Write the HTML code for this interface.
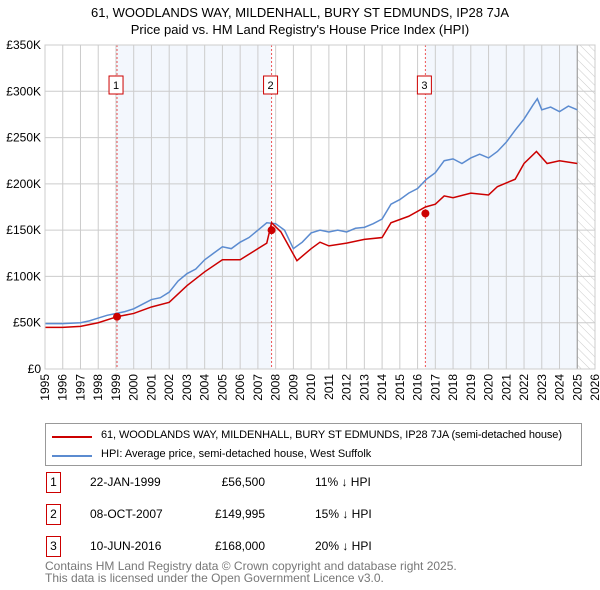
<!DOCTYPE html>
<html><head><meta charset="utf-8"><style>
body{margin:0;background:#fff;font-family:"Liberation Sans","DejaVu Sans",sans-serif;}
#wrap{position:relative;width:600px;height:590px;overflow:hidden}
.t{position:absolute;font-size:12px;color:#000;white-space:nowrap}
.box{position:absolute;width:13px;height:19px;border:1px solid #c00;font-size:12px;text-align:center;line-height:19px;background:#fff}
</style></head><body><div id="wrap">
<div class="t" style="left:0;width:600px;text-align:center;top:4px;font-size:13px;line-height:17px">61, WOODLANDS WAY, MILDENHALL, BURY ST EDMUNDS, IP28 7JA<br>Price paid vs. HM Land Registry's House Price Index (HPI)</div>
<svg id="chart" width="600" height="420" style="position:absolute;left:0;top:0">
<defs><pattern id="hatch" width="6" height="6" patternUnits="userSpaceOnUse" patternTransform="rotate(-45)"><line x1="0" y1="0" x2="0" y2="6" stroke="#ccc" stroke-width="1"/></pattern></defs>
</svg>
<div style="position:absolute;left:45px;top:423px;width:535px;height:41px;border:1px solid #999">
<div style="position:absolute;left:6px;top:12px;width:40px;height:2px;background:#c00"></div>
<div class="t" style="left:55px;top:5px;font-size:11px;letter-spacing:-0.1px">61, WOODLANDS WAY, MILDENHALL, BURY ST EDMUNDS, IP28 7JA (semi-detached house)</div>
<div style="position:absolute;left:6px;top:31px;width:40px;height:2px;background:#5b8bd0"></div>
<div class="t" style="left:55px;top:24px;font-size:11px">HPI: Average price, semi-detached house, West Suffolk</div>
</div>
<div id="rows"></div>
<div class="t" style="left:45px;top:560px;color:#777;font-size:12px;line-height:12px">Contains HM Land Registry data © Crown copyright and database right 2025.<br>This data is licensed under the Open Government Licence v3.0.</div>
</div>
<script>
const hpiYears=[1995,1996,1997,1997.5,1998,1998.5,1999,1999.5,2000,2000.5,2001,2001.5,2002,2002.5,2003,2003.5,2004,2004.5,2005,2005.5,2006,2006.5,2007,2007.5,2008,2008.5,2009,2009.5,2010,2010.5,2011,2011.5,2012,2012.5,2013,2013.5,2014,2014.5,2015,2015.5,2016,2016.5,2017,2017.5,2018,2018.5,2019,2019.5,2020,2020.5,2021,2021.5,2022,2022.5,2022.75,2023,2023.5,2024,2024.5,2025];
const hpiValues=[49,49,50,52,55,58,60,62,65,70,75,77,83,95,103,108,118,125,132,130,137,142,150,158,157,150,130,137,147,150,148,150,148,152,153,157,162,178,183,190,195,205,212,225,227,222,228,232,228,235,245,258,270,285,292,280,283,278,284,280];
const redYears=[1995,1996,1997,1998,1999.06,2000,2001,2002,2003,2004,2005,2006,2007,2007.5,2007.77,2008.3,2009.2,2010,2010.5,2011,2012,2013,2014,2014.5,2015.5,2016.44,2017,2017.5,2018,2019,2020,2020.5,2021.5,2022,2022.7,2023.3,2024,2025];
const redValues=[45,45,46,50,56.5,60,67,72,90,105,118,118,130,136,158,148,117,130,137,133,136,140,142,158,165,175,178,187,185,190,188,197,205,222,235,222,225,222];
const saleYears=[1999.06,2007.77,2016.44];
const saleValues=[56.5,149.995,168];
const saleLabels=["1","2","3"];
const saleDates=["22-JAN-1999","08-OCT-2007","10-JUN-2016"];
const salePrices=["£56,500","£149,995","£168,000"];
const salePct=["11% ↓ HPI","15% ↓ HPI","20% ↓ HPI"];
const yTicks=[0,50,100,150,200,250,300,350];
const yTickLabels=["£0","£50K","£100K","£150K","£200K","£250K","£300K","£350K"];
const xTicks=[1995,1996,1997,1998,1999,2000,2001,2002,2003,2004,2005,2006,2007,2008,2009,2010,2011,2012,2013,2014,2015,2016,2017,2018,2019,2020,2021,2022,2023,2024,2025,2026];
const X0=45,X1=595,Y0=369,Y1=45;
const x=y=>X0+(y-1995)/(2026-1995)*(X1-X0);
const yv=v=>Y0-v/350*(Y0-Y1);
const svg=document.getElementById('chart');const NS='http://www.w3.org/2000/svg';
function mk(tag,attrs,parent){const e=document.createElementNS(NS,tag);for(const k in attrs)e.setAttribute(k,attrs[k]);(parent||svg).appendChild(e);return e;}
let r=mk('rect',{x:x(saleYears[0]),y:Y1,width:x(saleYears[1])-x(saleYears[0]),height:Y0-Y1,fill:'#eef3fc',opacity:0.7});


r=mk('rect',{x:x(saleYears[2]),y:Y1,width:x(2025)-x(saleYears[2]),height:Y0-Y1,fill:'#eef3fc',opacity:0.7});


r=mk('rect',{x:x(2025),y:Y1,width:x(2026)-x(2025),height:Y0-Y1,fill:'url(#hatch)'});


xTicks.forEach(t=>{const l=mk('line',{x1:x(t),x2:x(t),y1:Y1,y2:Y0,stroke:'#ccc'});


const tx=mk('text',{x:x(t)+4,y:Y0+5,'font-size':12,transform:`rotate(-90 ${x(t)+4} ${Y0+5})`,'text-anchor':'end','font-family':'Liberation Sans, sans-serif'});tx.textContent=t;

});
yTicks.forEach((t,i)=>{const l=mk('line',{x1:X0,x2:X1,y1:yv(t),y2:yv(t),stroke:'#ccc'});


const tx=mk('text',{x:X0-4,y:yv(t)+4,'font-size':12,'text-anchor':'end','font-family':'Liberation Sans, sans-serif'});tx.textContent=yTickLabels[i];

});
let l=mk('line',{x1:x(2025),x2:x(2025),y1:Y1,y2:Y0,stroke:'#999'});


saleYears.forEach((s,i)=>{const d=mk('line',{x1:x(s),x2:x(s),y1:Y1,y2:Y0,stroke:'#e55','stroke-dasharray':'2,2'});

});
let p=mk('polyline',{points:hpiYears.map((t,i)=>x(t)+','+yv(hpiValues[i])).join(' '),fill:'none',stroke:'#5b8bd0','stroke-width':1.5});


p=mk('polyline',{points:redYears.map((t,i)=>x(t)+','+yv(redValues[i])).join(' '),fill:'none',stroke:'#c00','stroke-width':1.5});


saleYears.forEach((s,i)=>{const c=mk('circle',{cx:x(s),cy:yv(saleValues[i]),r:4,fill:'#c00'});


const g=mk('rect',{x:x(s)-8,y:76,width:14,height:18,fill:'#fff',stroke:'#c00'});


const t=mk('text',{x:x(s)-1,y:89,'font-size':11,'text-anchor':'middle','font-family':'Liberation Sans, sans-serif'});t.textContent=saleLabels[i];

});
let b=mk('rect',{x:X0,y:Y1,width:X1-X0,height:Y0-Y1,fill:'none',stroke:'#ccc'});


const rows=document.getElementById('rows');
saleLabels.forEach((lab,i)=>{const top=472+i*32;
const bx=document.createElement('div');bx.className='box';bx.style.left='46px';bx.style.top=top+'px';bx.textContent=lab;

rows.appendChild(bx);
const cells=[[saleDates[i],90,'center',65],[salePrices[i],200,'right',65],[salePct[i],315,'left',80]];
cells.forEach(([txt,left,al,w],j)=>{const d=document.createElement('div');d.className='t';d.style.left=left+'px';d.style.width=w+'px';d.style.textAlign=al;d.style.top=(top+3)+'px';d.textContent=txt;

rows.appendChild(d);});});
</script></body></html>
